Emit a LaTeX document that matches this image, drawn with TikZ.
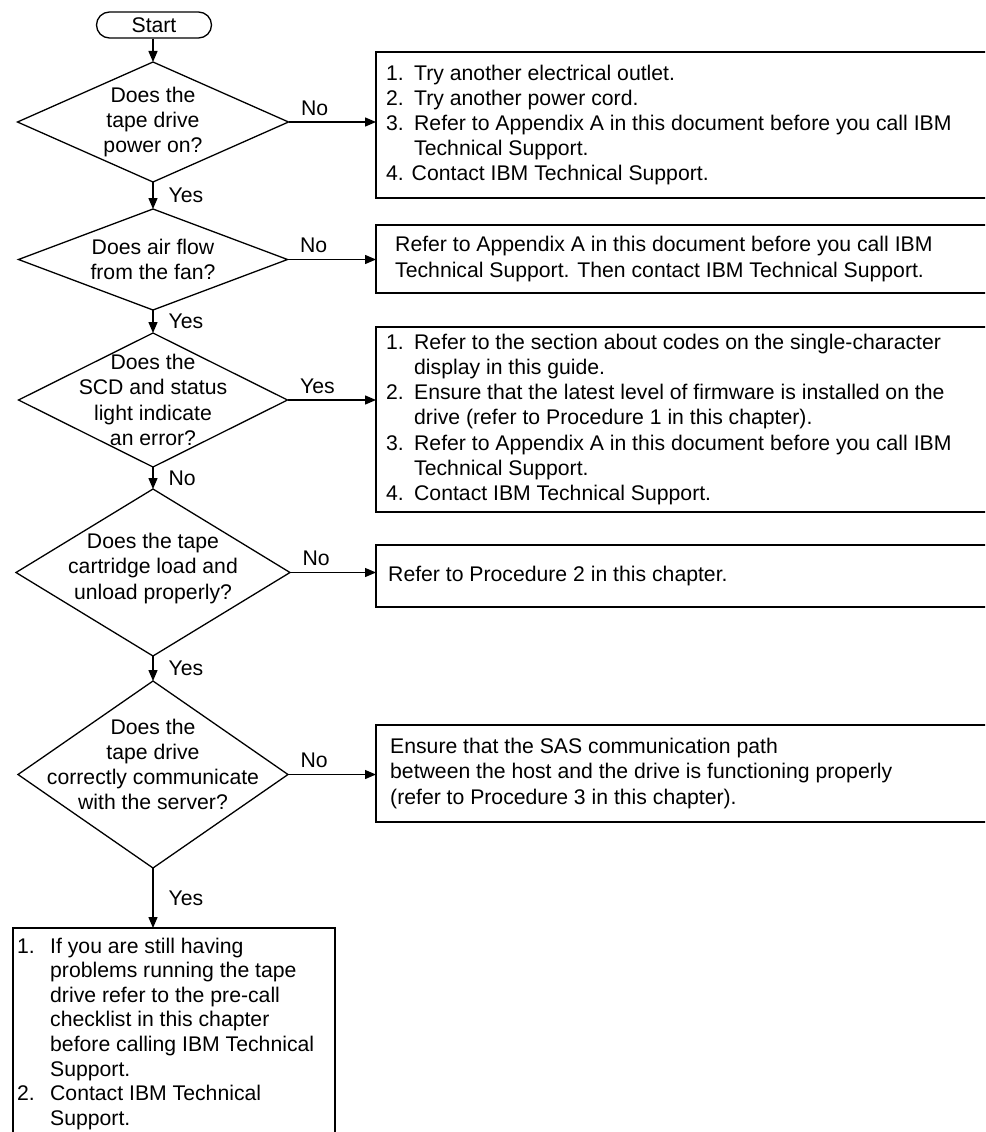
\documentclass[tikz,border=0pt]{standalone}
\usepackage{fontspec}
\setmainfont{Liberation Sans}
\usetikzlibrary{shapes.geometric,shapes.misc,arrows.meta}
\newcommand\fs{\fontsize{21.2}{25.2}\selectfont}
\newcommand\fsb{\fontsize{21.2}{24.6}\selectfont}
\newcommand\itm[1]{\makebox[28pt][l]{#1}}
\newcommand\jtm[1]{\makebox[33pt][l]{#1}}
\begin{document}
\begin{tikzpicture}[x=1pt,y=-1pt,
  every node/.style={font=\fs},
  lw/.style={line width=1.3pt},
  dia/.style={lw,draw,diamond,inner sep=0pt,outer sep=0pt},
  dtxt/.style={align=center,inner sep=0pt},
  box/.style={lw,draw,rectangle,anchor=north west,minimum width=800pt,inner sep=0pt,outer sep=0pt},
  btxt/.style={anchor=west,align=left,inner sep=0pt},
  arr/.style={lw,-{Triangle[length=11pt,width=9pt]}},
  ylbl/.style={midway,anchor=west,inner sep=0pt,xshift=15pt},
  nlbl/.style={pos=0,anchor=south west,inner sep=0pt,xshift=12pt,yshift=6pt}]
\useasboundingbox (0,0) rectangle (985,1132);
\clip (0,0) rectangle (985,1132);
% start
\node[lw,draw,rounded rectangle,minimum width=115pt,minimum height=26pt,inner sep=0pt] (start) at (154,25) {Start};
% decisions
\node[dia,minimum width=271pt,minimum height=120pt] (q1) at (153,122) {};
\node[dtxt] (q1t) at (q1) {Does the\\tape drive\\power on?};
\node[dia,minimum width=269pt,minimum height=101pt] (q2) at (153,259.5) {};
\node[dtxt] (q2t) at (q2) {Does air flow\\from the fan?};
\node[dia,minimum width=269pt,minimum height=134pt] (q3) at (153,400) {};
\node[dtxt] (q3t) at (q3) {Does the\\SCD and status\\light indicate\\an error?};
\node[dia,minimum width=274pt,minimum height=167pt] (q4) at (153,572.5) {};
\node[dtxt] (q4t) at ([yshift=4pt]q4.center) {Does the tape\\cartridge load and\\unload properly?};
\node[dia,minimum width=270pt,minimum height=187pt] (q5) at (153,774.5) {};
\node[dtxt] (q5t) at ([yshift=10pt]q5.center) {Does the\\tape drive\\correctly communicate\\with the server?};
% boxes
\node[box,minimum height=146pt] (b1) at (376,52) {};
\node[btxt] (t1) at ([xshift=10pt]b1.west) {\itm{1.}Try another electrical outlet.\\
\itm{2.}Try another power cord.\\
\itm{3.}Refer to Appendix A in this document before you call IBM\\
\itm{}Technical Support.\\
4. Contact IBM Technical Support.};
\node[box,minimum height=68pt] (b2) at (376,225) {};
\node[btxt] (t2) at ([xshift=19pt]b2.west) {Refer to Appendix A in this document before you call IBM\\
Technical Support. Then contact IBM Technical Support.};
\node[box,minimum height=185pt] (b3) at (376,327) {};
\node[btxt] (t3) at ([xshift=10pt]b3.west) {\itm{1.}Refer to the section about codes on the single-character\\
\itm{}display in this guide.\\
\itm{2.}Ensure that the latest level of firmware is installed on the\\
\itm{}drive (refer to Procedure 1 in this chapter).\\
\itm{3.}Refer to Appendix A in this document before you call IBM\\
\itm{}Technical Support.\\
\itm{4.}Contact IBM Technical Support.};
\node[box,minimum height=62pt] (b4) at (376,545) {};
\node[btxt] (t4) at ([xshift=12pt]b4.west) {Refer to Procedure 2 in this chapter.};
\node[box,minimum height=97pt] (b5) at (376,725) {};
\node[btxt] (t5) at ([xshift=14pt]b5.west) {Ensure that the SAS communication path\\
between the host and the drive is functioning properly\\
(refer to Procedure 3 in this chapter).};
\node[box,minimum width=322pt,minimum height=300pt] (b6) at (13,928) {};
\node[anchor=north west,align=left,inner sep=0pt,font=\fsb] (t6) at (17,937.5) {\jtm{1.}If you are still having\\
\jtm{}problems running the tape\\
\jtm{}drive refer to the pre-call\\
\jtm{}checklist in this chapter\\
\jtm{}before calling IBM Technical\\
\jtm{}Support.\\
\jtm{2.}Contact IBM Technical\\
\jtm{}Support.};
% connectors
\draw[arr] (start.south -| q1.north) -- (q1.north);
\draw[arr] (q1.south) -- node[ylbl] (y1) {Yes} (q2.north);
\draw[arr] (q2.south) -- node[ylbl] (y2) {Yes} (q3.north);
\draw[arr] (q3.south) -- node[ylbl] (n3) {No} (q4.north);
\draw[arr] (q4.south) -- node[ylbl] (y4) {Yes} (q5.north);
\draw[arr] (q5.south) -- node[ylbl] (y5) {Yes} (b6.north -| q5.south);
\draw[arr] (q1.east) -- node[nlbl] (n1) {No} (q1.east -| b1.west);
\draw[arr] (q2.east) -- node[nlbl] (n2) {No} (q2.east -| b2.west);
\draw[arr] (q3.east) -- node[nlbl] (y3) {Yes} (q3.east -| b3.west);
\draw[arr] (q4.east) -- node[nlbl] (n4) {No} (q4.east -| b4.west);
\draw[arr] (q5.east) -- node[nlbl] (n5) {No} (q5.east -| b5.west);
\end{tikzpicture}
\end{document}
